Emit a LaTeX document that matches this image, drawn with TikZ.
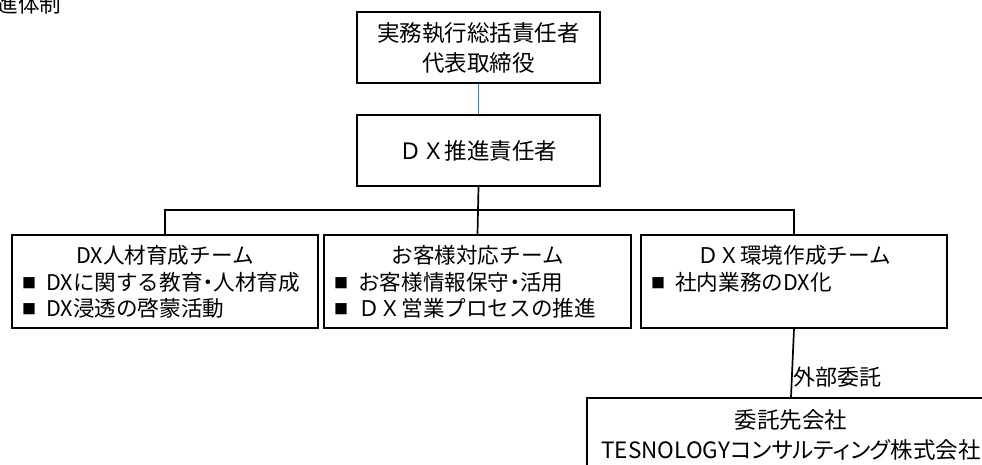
\documentclass[tikz,border=0pt]{standalone}
\usepackage{fontspec}
\setmainfont{Noto Sans CJK JP}
\newfontfamily\pfont[RawFeature=+palt]{Noto Sans CJK JP}
\definecolor{blueline}{HTML}{4472C4}
\newcommand{\bsq}{\raisebox{1.5pt}{\fontsize{14}{14}\selectfont ■}\hspace{10pt}}
\newcommand{\nkt}{{\pfont ・}}
\begin{document}
\begin{tikzpicture}[x=1pt,y=-1pt,
  box/.style={draw=black, line width=1.7pt, inner sep=0pt, align=center},
  conn/.style={line width=1.7pt},
  big/.style={font=\fontsize{22.5}{30}\selectfont},
  small/.style={font=\fontsize{21.6}{27}\selectfont},
  bul/.style={small, anchor=west, inner sep=0pt}]
\useasboundingbox (0,0) rectangle (982,464);
\node[small, inner sep=0pt] (title) at (29,4) {進体制};
% top boxes
\node[box, big, minimum width=243pt, minimum height=71pt] (top) at (478.5,47.5) {実務執行総括責任者\\代表取締役};
\node[box, big, minimum width=243pt, minimum height=71pt] (dx) at (478.5,150.5) {ＤＸ推進責任者};
% teams
\node[box, minimum width=306pt, minimum height=93pt] (t1) at (165,281.5) {};
\node[box, minimum width=307pt, minimum height=93pt] (t2) at (477.5,281.5) {};
\node[box, minimum width=306pt, minimum height=93pt] (t3) at (794,281.5) {};
\node[small] (t1h) at (165,255) {DX人材育成チーム};
\node[bul] (t1a) at (22,282) {\bsq DXに関する教育\nkt 人材育成};
\node[bul] (t1b) at (22,308) {\bsq DX浸透の啓蒙活動};
\node[small] (t2h) at (477.5,255) {お客様対応チーム};
\node[bul] (t2a) at (334,282) {\bsq お客様情報保守\nkt 活用};
\node[bul] (t2b) at (334,308) {\bsq ＤＸ営業プロセスの推進};
\node[small] (t3h) at (794,255) {ＤＸ環境作成チーム};
\node[bul] (t3a) at (651,282) {\bsq 社内業務のDX化};
% external
\node[box, big, minimum width=408pt, minimum height=74pt] (ext) at (791,435) {委託先会社\\{\pfont TESNOLOGYコンサルティング株式会社}};
% connectors
\coordinate (bus) at (478.5,210);
\draw[line width=1.5pt, blueline] (top.south) -- (dx.north);
\draw[conn] (dx.south) -- (t2.north);
\draw[conn] (t1.north) |- (bus) -| (t3.north);
\draw[conn] (t3.south) -- node[pos=0.71, anchor=west, inner sep=1pt, font=\fontsize{22}{27}\selectfont] (extlbl) {外部委託} (ext.north);
\end{tikzpicture}
\end{document}
